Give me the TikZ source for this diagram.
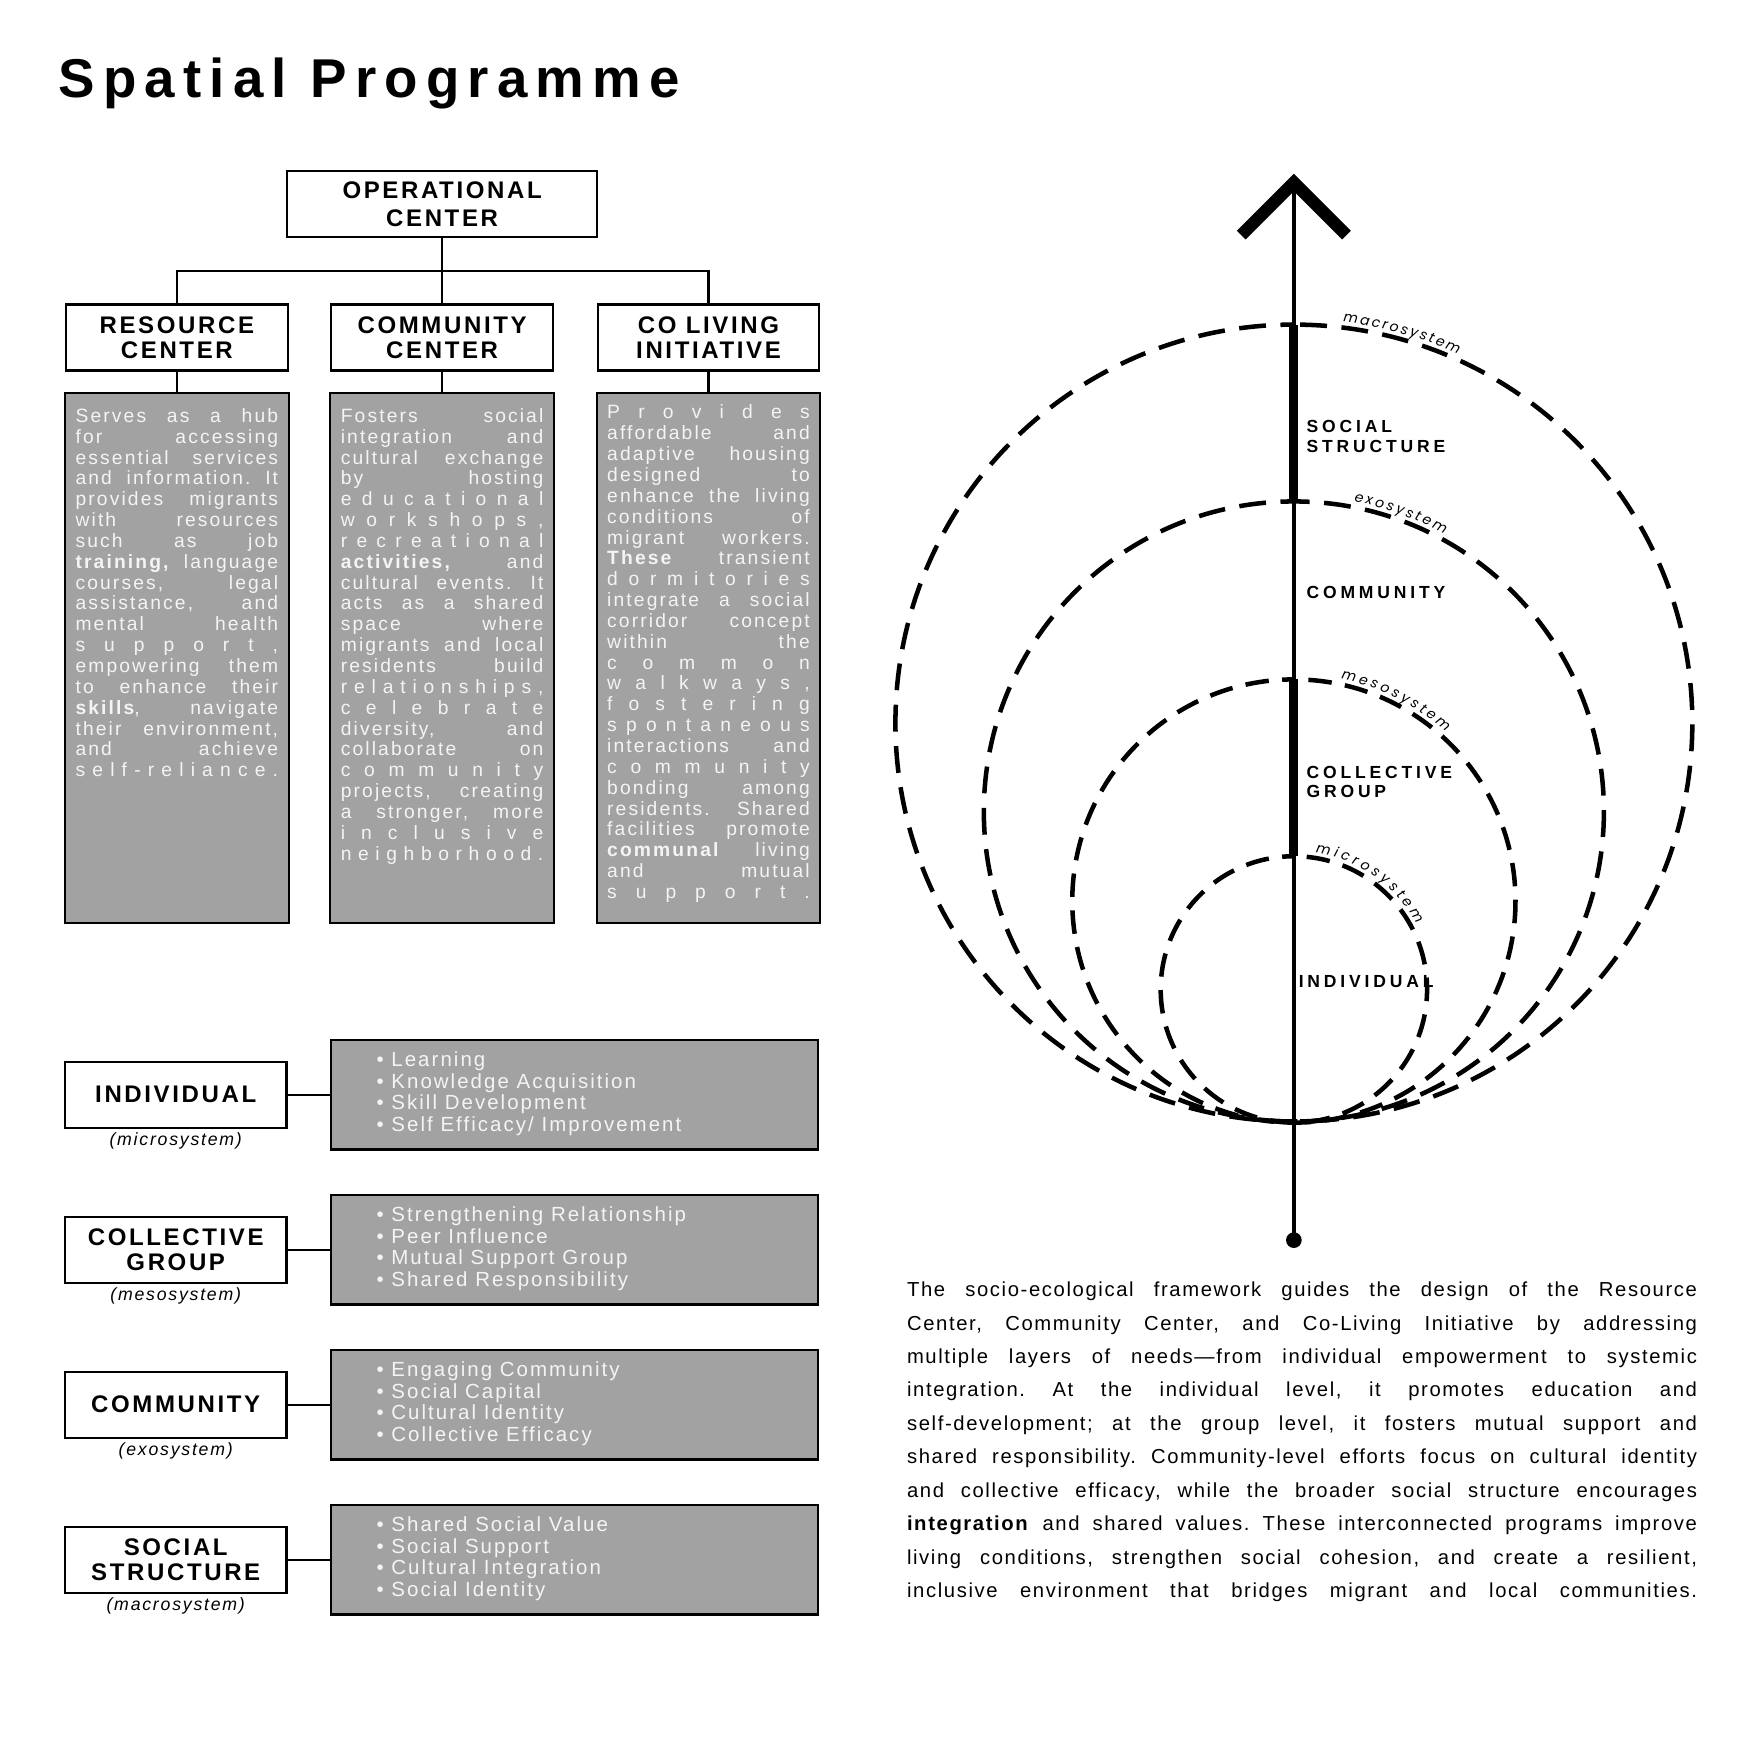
\documentclass[tikz,border=0pt]{standalone}
\usepackage{fontspec}
\setmainfont{Liberation Sans}
\newfontfamily\ttlfont{Liberation Sans}[LetterSpace=15]
\newfontfamily\hdfont{Liberation Sans}[LetterSpace=11]
\newfontfamily\txtfont{Liberation Sans}[LetterSpace=11]
\newfontfamily\lstfont{Liberation Sans}[LetterSpace=10]
\newfontfamily\parfont{Liberation Sans}[LetterSpace=8]
\newfontfamily\lblfont{Liberation Sans}[LetterSpace=22]
\newfontfamily\sysfont{Poppins}
\usetikzlibrary{positioning,decorations.text}
\definecolor{boxgray}{HTML}{A2A2A2}
\definecolor{txtwhite}{HTML}{F4F4F4}
\frenchspacing
\newlength\jw
\setlength\jw{3.62cm}
\newlength\pw
\setlength\pw{14.12cm}
\newcommand\jl[2][\jw]{\makebox[#1][s]{#2}}
\def\spr#1{\jl{\sprx#1\relax}}
\def\sprx#1#2{#1\ifx\relax#2\else\hfill\expandafter\sprx\fi#2}

\begin{document}
\begin{tikzpicture}[x=0.02cm,y=0.02cm,
  hd/.style={draw,line width=1.1pt,fill=white,minimum width=3.96cm,minimum height=1.18cm,inner sep=0,align=center,font=\hdfont\bfseries\fontsize{12.2}{12.8}\selectfont},
  gbox/.style={draw,line width=1.1pt,fill=boxgray,minimum width=4cm,minimum height=9.48cm,inner sep=0,anchor=north},
  gtxt/.style={align=left,inner sep=0,anchor=north,text=txtwhite,font=\txtfont\fontsize{9.8}{10.6}\selectfont},
  lbox/.style={draw,line width=1.1pt,fill=boxgray,minimum width=8.7cm,minimum height=1.96cm,inner sep=0},
  ltxt/.style={align=left,inner sep=0,anchor=north west,text=txtwhite,font=\lstfont\fontsize{10.4}{11.1}\selectfont},
  sub/.style={inner sep=0,font=\lstfont\itshape\fontsize{9}{9.5}\selectfont},
  ring/.style={line width=2.3pt,dash pattern=on 0.48cm off 0.26cm,dash phase=0.24cm},
  sring/.style={line width=2.3pt,dash pattern=on 0.42cm off 0.24cm,dash phase=0.21cm},
  sys/.style={decorate,decoration={text along path,text align={fit to path},text={|\sysfont\itshape\fontsize{7.1}{7.5}\selectfont|#1}}},
  lbl/.style={anchor=west,align=left,inner sep=0,font=\lblfont\bfseries\fontsize{8.9}{10.1}\selectfont}]
\path[use as bounding box,fill=white] (0,0) rectangle (1568,-1568);

\node[anchor=base west,inner sep=0,font=\ttlfont\bfseries\fontsize{27.8}{30}\selectfont] (ttl) at (52,-87) {Spatial Programme};

\node[hd,minimum width=5.54cm,font=\hdfont\bfseries\fontsize{12.2}{14.2}\selectfont] (opc) at (395,-182.5) {OPERATIONAL\\CENTER};
\node[hd] (rsc) at (158,-301.5) {RESOURCE\\CENTER};
\node[hd] (cmc) at (395,-301.5) {COMMUNITY\\CENTER};
\node[hd] (clv) at (633,-301.5) {CO LIVING\\INITIATIVE};
\coordinate (br) at (395,-242);
\draw[line width=1.1pt] (opc.south) -- (br) (rsc.north) |- (br) -| (clv.north) (br) -- (cmc.north);

\node[gbox] (rsb) at (158,-350) {};
\node[gbox] (cmb) at (395,-350) {};
\node[gbox] (clb) at (633,-350) {};
\draw[line width=1.1pt] (rsc) -- (rsb) (cmc) -- (cmb) (clv) -- (clb);

\node[gtxt] (rst) at ([yshift=-0.29cm]rsb.north) {\jl{Serves as a hub}\\\jl{for accessing}\\\jl{essential services}\\\jl{and information. It}\\\jl{provides migrants}\\\jl{with resources}\\\jl{such as job}\\\jl{\textbf{training,} language}\\\jl{courses, legal}\\\jl{assistance, and}\\\jl{mental health}\\\spr{support,}\\\jl{empowering them}\\\jl{to enhance their}\\\jl{\textbf{skills}, navigate}\\\jl{their environment,}\\\jl{and achieve}\\\spr{self-reliance.}};
\node[gtxt] (cmt) at ([yshift=-0.29cm]cmb.north) {\jl{Fosters social}\\\jl{integration and}\\\jl{cultural exchange}\\\jl{by hosting}\\\spr{educational}\\\spr{workshops,}\\\spr{recreational}\\\jl{\textbf{activities,} and}\\\jl{cultural events. It}\\\jl{acts as a shared}\\\jl{space where}\\\jl{migrants and local}\\\jl{residents build}\\\spr{relationships,}\\\spr{celebrate}\\\jl{diversity, and}\\\jl{collaborate on}\\\spr{community}\\\jl{projects, creating}\\\jl{a stronger, more}\\\spr{inclusive}\\\spr{neighborhood.}};
\node[gtxt] (clt) at ([yshift=-0.23cm]clb.north) {\spr{Provides}\\\jl{affordable and}\\\jl{adaptive housing}\\\jl{designed to}\\\jl{enhance the living}\\\jl{conditions of}\\\jl{migrant workers.}\\\jl{\textbf{These} transient}\\\spr{dormitories}\\\jl{integrate a social}\\\jl{corridor concept}\\\jl{within the}\\\spr{common}\\\spr{walkways,}\\\spr{fostering}\\\spr{spontaneous}\\\jl{interactions and}\\\spr{community}\\\jl{bonding among}\\\jl{residents. Shared}\\\jl{facilities promote}\\\jl{\textbf{communal} living}\\\jl{and mutual}\\\spr{support.}};

\node[hd] (ind) at (157,-978) {INDIVIDUAL};
\node[sub,below=2pt of ind] (inds) {(microsystem)};
\node[lbox] (indl) at (513.5,-978) {};
\node[ltxt] (indt) at ([xshift=0.82cm,yshift=-0.22cm]indl.north west) {• Learning\\• Knowledge Acquisition\\• Skill Development\\• Self Efficacy/ Improvement};
\draw[line width=1.1pt] (ind) -- (indl);

\node[hd] (grp) at (157,-1116.5) {COLLECTIVE\\GROUP};
\node[sub,below=2pt of grp] (grps) {(mesosystem)};
\node[lbox] (grpl) at (513.5,-1116.5) {};
\node[ltxt] (grpt) at ([xshift=0.82cm,yshift=-0.22cm]grpl.north west) {• Strengthening Relationship\\• Peer Influence\\• Mutual Support Group\\• Shared Responsibility};
\draw[line width=1.1pt] (grp) -- (grpl);

\node[hd] (com) at (157,-1255) {COMMUNITY};
\node[sub,below=2pt of com] (coms) {(exosystem)};
\node[lbox] (coml) at (513.5,-1255) {};
\node[ltxt] (comt) at ([xshift=0.82cm,yshift=-0.22cm]coml.north west) {• Engaging Community\\• Social Capital\\• Cultural Identity\\• Collective Efficacy};
\draw[line width=1.1pt] (com) -- (coml);

\node[hd] (soc) at (157,-1393.5) {SOCIAL\\STRUCTURE};
\node[sub,below=2pt of soc] (socs) {(macrosystem)};
\node[lbox] (socl) at (513.5,-1393.5) {};
\node[ltxt] (soct) at ([xshift=0.82cm,yshift=-0.22cm]socl.north west) {• Shared Social Value\\• Social Support\\• Cultural Integration\\• Social Identity};
\draw[line width=1.1pt] (soc) -- (socl);

\coordinate (c1) at (1156,-646);
\coordinate (c2) at (1156,-725);
\coordinate (c3) at (1156,-805);
\coordinate (c4) at (1156,-884);
\coordinate (t1) at (1156,-290);
\coordinate (t2) at (1156,-448);
\coordinate (t3) at (1156,-607);
\coordinate (t4) at (1156,-765);
\coordinate (atop) at (1156,-163);
\coordinate (abot) at (1156,-1108);

\draw[ring] (t1) arc[start angle=90,end angle=450,radius=356];
\draw[ring] (t2) arc[start angle=90,end angle=450,radius=277];
\draw[sring] (t3) arc[start angle=90,end angle=450,radius=198];
\draw[sring] (t4) arc[start angle=90,end angle=450,radius=119];

\draw[line width=1.7pt] (abot) -- (atop);
\draw[line width=0.22cm] ([shift={(-47,-47)}]atop) -- (atop) -- ++(47,-47);
\fill (abot) circle[radius=7];
\draw[line width=4.5pt] (t1) -- (t2) (t3) -- (t4);

\path[sys=macrosystem] (c1) ++(83:361) arc[start angle=83,end angle=66,radius=361];
\path[sys=exosystem] (c2) ++(79:282) arc[start angle=79,end angle=61.5,radius=282];
\path[sys=mesosystem] (c3) ++(78:203) arc[start angle=78,end angle=48,radius=203];
\path[sys=microsystem] (c4) ++(81:124) arc[start angle=81,end angle=28,radius=124];

\node[lbl] (lss) at (1167,-390) {SOCIAL\\STRUCTURE};
\node[lbl] (lcm) at (1167,-529) {COMMUNITY};
\node[lbl,font=\lblfont\bfseries\fontsize{8.9}{9.7}\selectfont] (lcg) at (1167,-698.5) {COLLECTIVE\\GROUP};
\node[lbl] (lin) at (1160,-877) {INDIVIDUAL};

\node[anchor=north west,inner sep=0,align=left,font=\parfont\fontsize{10.3}{17}\selectfont] (txt) at (810,-1145) {\jl[\pw]{The socio-ecological framework guides the design of the Resource}\\\jl[\pw]{Center, Community Center, and Co-Living Initiative by addressing}\\\jl[\pw]{multiple layers of needs—from individual empowerment to systemic}\\\jl[\pw]{integration. At the individual level, it promotes education and}\\\jl[\pw]{self-development; at the group level, it fosters mutual support and}\\\jl[\pw]{shared responsibility. Community-level efforts focus on cultural identity}\\\jl[\pw]{and collective efficacy, while the broader social structure encourages}\\\jl[\pw]{\textbf{integration} and shared values. These interconnected programs improve}\\\jl[\pw]{living conditions, strengthen social cohesion, and create a resilient,}\\\jl[\pw]{inclusive environment that bridges migrant and local communities.}};
\end{tikzpicture}
\end{document}
